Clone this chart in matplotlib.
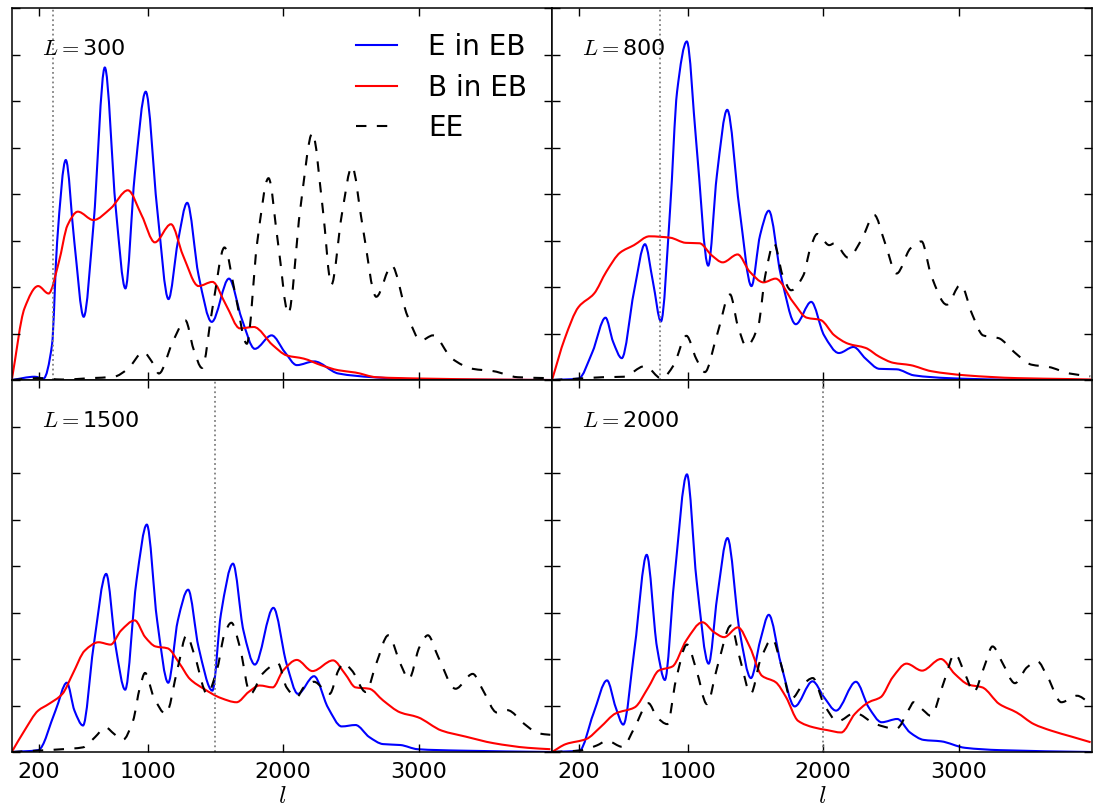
import numpy as np
import matplotlib
matplotlib.use('Agg')
import matplotlib.pyplot as plt
from matplotlib.path import Path
from matplotlib.patches import PathPatch
from matplotlib.lines import Line2D

plt.rcParams['mathtext.fontset'] = 'cm'
plt.rcParams['font.family'] = 'DejaVu Sans'

# multipole values L for each panel
L_values = [300, 800, 1500, 2000]

# ---- L = 300 ----
l_E_300 = [0, 168, 232, 295, 333, 397, 460, 529, 601, 685, 766, 837, 906, 987, 1071, 1155, 1224, 1293,
           1377, 1474, 1601, 1695, 1792, 1916, 2013, 2102, 2229, 2408, 2662, 3044, 3980]
E_300 = [0, 0.07, 0.03, 0.75, 2.97, 4.73, 2.97, 1.36, 3.33, 6.72, 3.69, 1.97, 4.41, 6.20, 3.69, 1.74, 2.97, 3.81,
         2.25, 1.25, 2.18, 1.32, 0.67, 0.96, 0.60, 0.32, 0.40, 0.14, 0.06, 0.01, 0]
l_B_300 = [0, 92, 193, 270, 346, 410, 486, 601, 728, 855, 957, 1054, 1173, 1262, 1377, 1479, 1580, 1682,
           1784, 1924, 2026, 2153, 2280, 2408, 2535, 2688, 3044, 3553, 3980]
B_300 = [0.03, 1.54, 2.02, 1.86, 2.54, 3.33, 3.62, 3.44, 3.69, 4.08, 3.54, 2.96, 3.35, 2.68, 2.02, 2.11, 1.61, 1.11,
         1.14, 0.75, 0.53, 0.46, 0.32, 0.21, 0.16, 0.06, 0.03, 0.01, 0]
l_EE_300 = [0, 193, 372, 575, 753, 855, 970, 1033, 1084, 1186, 1280, 1339, 1402, 1479, 1568, 1644, 1733, 1810,
            1893, 1962, 2039, 2128, 2217, 2293, 2357, 2433, 2509, 2586, 2688, 2802, 2917, 3018, 3107, 3247,
            3400, 3553, 3731, 3960]
EE_300 = [0, 0.04, 0.01, 0.04, 0.07, 0.24, 0.60, 0.39, 0.14, 0.82, 1.28, 0.67, 0.26, 1.54, 2.85, 1.90, 0.78, 2.97,
          4.34, 2.97, 1.43, 3.69, 5.31, 3.69, 2.05, 3.54, 4.59, 3.33, 1.79, 2.46, 1.39, 0.85, 0.96, 0.46,
          0.24, 0.19, 0.06, 0.04]

# ---- L = 800 ----
l_E_800 = [0, 196, 298, 395, 451, 515, 605, 686, 745, 804, 872, 923, 995, 1064, 1153, 1217, 1293, 1383, 1472,
           1536, 1600, 1689, 1799, 1913, 2008, 2117, 2225, 2314, 2416, 2543, 2671, 2926, 3309, 3980]
E_800 = [0, 0.03, 0.60, 1.34, 0.82, 0.47, 1.90, 2.92, 2.11, 1.26, 3.69, 6.20, 7.28, 5.13, 2.46, 4.41, 5.81, 3.69, 2.02,
         3.12, 3.64, 2.25, 1.20, 1.68, 0.96, 0.58, 0.71, 0.46, 0.24, 0.23, 0.10, 0.04, 0.01, 0]
l_B_800 = [0, 94, 196, 311, 401, 503, 605, 719, 872, 987, 1089, 1179, 1260, 1370, 1459, 1561, 1650, 1778, 1880,
           1982, 2084, 2186, 2314, 2416, 2518, 2645, 2798, 3053, 3436, 3819, 3980]
B_800 = [0, 0.89, 1.57, 1.86, 2.33, 2.74, 2.90, 3.09, 3.06, 2.95, 2.94, 2.68, 2.53, 2.70, 2.33, 2.10, 2.18, 1.68, 1.34,
         1.29, 0.96, 0.78, 0.69, 0.50, 0.37, 0.32, 0.19, 0.10, 0.04, 0.02, 0.01]
l_EE_800 = [0, 196, 375, 528, 686, 809, 898, 992, 1064, 1128, 1217, 1314, 1370, 1434, 1523, 1574, 1638, 1702,
            1765, 1855, 1906, 1957, 2046, 2084, 2186, 2288, 2378, 2455, 2543, 2645, 2727, 2798, 2913, 3015,
            3104, 3181, 3296, 3411, 3538, 3666, 3819, 3972]
EE_800 = [0, 0.03, 0.06, 0.07, 0.30, 0.03, 0.32, 0.95, 0.46, 0.17, 0.96, 1.84, 1.18, 0.73, 1.18, 2.25, 2.94, 2.25,
          1.93, 2.25, 2.83, 3.14, 2.90, 2.94, 2.63, 3.04, 3.55, 2.97, 2.29, 2.83, 2.98, 2.25, 1.62, 2.05,
          1.39, 0.96, 0.90, 0.60, 0.33, 0.28, 0.14, 0.08]

# ---- L = 1500 ----
l_E_1500 = [0, 193, 321, 405, 461, 524, 601, 695, 766, 835, 919, 995, 1071, 1153, 1224, 1300, 1377, 1479, 1542,
            1631, 1708, 1792, 1929, 2026, 2110, 2229, 2331, 2433, 2535, 2637, 2738, 2866, 2993, 3298, 3980]
E_1500 = [0, 0.04, 0.89, 1.49, 0.89, 0.57, 2.25, 3.83, 2.25, 1.34, 3.69, 4.89, 2.83, 1.49, 2.83, 3.49, 2.25, 1.32, 2.97,
          4.05, 2.61, 1.88, 3.10, 1.90, 1.25, 1.63, 0.96, 0.55, 0.58, 0.32, 0.17, 0.15, 0.06, 0.03, 0]
l_B_1500 = [0, 92, 193, 270, 372, 448, 537, 639, 728, 804, 906, 983, 1059, 1148, 1237, 1313, 1415, 1542, 1657,
            1746, 1827, 1924, 2000, 2102, 2217, 2369, 2458, 2535, 2637, 2738, 2866, 2993, 3171, 3349, 3553,
            3807, 3973]
B_1500 = [0.01, 0.46, 0.89, 1.03, 1.25, 1.68, 2.18, 2.36, 2.31, 2.61, 2.83, 2.47, 2.27, 2.23, 1.90, 1.57, 1.36, 1.16,
          1.07, 1.29, 1.43, 1.39, 1.75, 1.98, 1.74, 1.97, 1.68, 1.39, 1.36, 1.11, 0.85, 0.75, 0.46, 0.33, 0.19,
          0.09, 0.06]
l_EE_1500 = [0, 193, 372, 524, 613, 690, 753, 817, 893, 944, 982, 1046, 1135, 1224, 1288, 1351, 1440, 1517, 1568,
             1619, 1682, 1759, 1848, 1962, 2026, 2102, 2153, 2229, 2344, 2408, 2446, 2509, 2611, 2688, 2777,
             2866, 2929, 3006, 3069, 3146, 3273, 3400, 3477, 3578, 3655, 3782, 3884, 3973]
EE_1500 = [0, 0.03, 0.06, 0.10, 0.32, 0.53, 0.39, 0.26, 0.67, 1.39, 1.70, 1.18, 0.82, 1.82, 2.51, 2.04, 1.25, 1.82,
           2.54, 2.78, 2.25, 1.25, 1.68, 1.91, 1.39, 1.18, 1.39, 1.51, 1.25, 1.75, 1.91, 1.75, 1.29, 1.90, 2.51,
           1.90, 1.57, 2.25, 2.51, 2.04, 1.36, 1.68, 1.32, 0.85, 0.90, 0.60, 0.40, 0.37]

# ---- L = 2000 ----
l_E_2000 = [0, 203, 305, 406, 470, 526, 610, 699, 775, 833, 902, 996, 1067, 1156, 1219, 1295, 1384, 1468, 1537,
            1600, 1689, 1791, 1923, 2007, 2096, 2243, 2337, 2433, 2548, 2642, 2743, 2870, 3048, 3302, 3980]
E_2000 = [0, 0.03, 0.82, 1.54, 0.96, 0.59, 2.25, 4.24, 2.25, 1.55, 3.69, 5.97, 3.69, 1.90, 3.33, 4.60, 2.61, 1.59, 2.40,
          2.95, 1.90, 0.98, 1.52, 1.18, 0.89, 1.51, 0.96, 0.64, 0.71, 0.42, 0.26, 0.23, 0.09, 0.04, 0]
l_B_2000 = [0, 102, 254, 356, 470, 610, 711, 787, 889, 991, 1110, 1194, 1270, 1372, 1461, 1549, 1651, 1727, 1816,
            1930, 2032, 2134, 2235, 2337, 2426, 2515, 2616, 2731, 2870, 2972, 3073, 3175, 3302, 3429, 3556,
            3683, 3835, 3975]
B_2000 = [0, 0.17, 0.28, 0.53, 0.83, 0.96, 1.39, 1.75, 1.84, 2.40, 2.79, 2.58, 2.47, 2.68, 2.25, 1.64, 1.50, 1.18,
          0.67, 0.53, 0.47, 0.42, 0.82, 1.07, 1.18, 1.61, 1.90, 1.75, 2.00, 1.68, 1.45, 1.39, 1.03, 0.85, 0.60,
          0.46, 0.33, 0.21]
l_EE_2000 = [0, 203, 330, 406, 521, 610, 711, 775, 851, 914, 996, 1067, 1143, 1219, 1321, 1384, 1468, 1537, 1626,
             1689, 1765, 1854, 1925, 2007, 2108, 2235, 2388, 2540, 2642, 2667, 2743, 2794, 2896, 2972, 3048,
             3112, 3188, 3251, 3327, 3416, 3505, 3581, 3658, 3759, 3874, 3962]
EE_2000 = [0, 0.03, 0.14, 0.24, 0.11, 0.53, 1.05, 0.75, 0.60, 1.54, 2.31, 1.75, 1.03, 1.82, 2.72, 2.04, 1.26, 1.97,
           2.43, 1.90, 1.14, 1.46, 1.59, 1.03, 0.66, 0.84, 0.60, 0.50, 0.96, 1.07, 0.89, 0.78, 1.54, 2.11, 1.68,
           1.29, 1.82, 2.27, 1.90, 1.48, 1.82, 1.95, 1.61, 1.07, 1.21, 1.07]

panels = [
    (l_E_300, E_300, l_B_300, B_300, l_EE_300, EE_300),
    (l_E_800, E_800, l_B_800, B_800, l_EE_800, EE_800),
    (l_E_1500, E_1500, l_B_1500, B_1500, l_EE_1500, EE_1500),
    (l_E_2000, E_2000, l_B_2000, B_2000, l_EE_2000, EE_2000),
]

xticks = [200, 1000, 2000, 3000]
LW = 1.5
EE_DASH = (0, (5, 5))


def smooth_path(x, y):
    # cubic bezier through the read points (monotone tangents, no overshoot)
    x = np.asarray(x, float)
    y = np.asarray(y, float)
    h = np.diff(x)
    d = np.diff(y) / h
    m = np.zeros_like(y)
    m[0], m[-1] = d[0], d[-1]
    for k in range(1, len(x) - 1):
        if d[k - 1] * d[k] <= 0:
            m[k] = 0.0
        else:
            w1 = 2 * h[k] + h[k - 1]
            w2 = h[k] + 2 * h[k - 1]
            m[k] = (w1 + w2) / (w1 / d[k - 1] + w2 / d[k])
    verts = [(x[0], y[0])]
    codes = [Path.MOVETO]
    for k in range(len(x) - 1):
        verts += [(x[k] + h[k] / 3, y[k] + m[k] * h[k] / 3),
                  (x[k + 1] - h[k] / 3, y[k + 1] - m[k + 1] * h[k] / 3),
                  (x[k + 1], y[k + 1])]
        codes += [Path.CURVE4] * 3
    return Path(verts, codes)


def draw_curve(ax, x, y, **kw):
    patch = PathPatch(smooth_path(x, y), facecolor='none', **kw)
    ax.add_patch(patch)


fig, axes = plt.subplots(2, 2, figsize=(10.99, 8.06), dpi=100, sharex=True, sharey=True)
fig.subplots_adjust(left=12/1099, right=1092/1099, top=1-8/806, bottom=1-752/806,
                    wspace=0, hspace=0)

for i, ax in enumerate(axes.flat):
    lE, E, lB, B, lEE, EE = panels[i]
    L = L_values[i]
    draw_curve(ax, lE, E, edgecolor='blue', lw=LW)
    draw_curve(ax, lB, B, edgecolor='red', lw=LW)
    draw_curve(ax, lEE, EE, edgecolor='black', lw=LW, linestyle=EE_DASH)
    ax.axvline(L, color='0.5', lw=1.3, linestyle=':')
    ax.text(0.055, 0.89, r'$L=$' + str(L), transform=ax.transAxes, fontsize=16, va='center', ha='left')

    ax.set_xlim(0, 3985)
    ax.set_ylim(0, 8)
    ax.set_xticks(xticks)
    ax.set_xticklabels([str(t) for t in xticks])
    ax.set_yticks(np.arange(0, 9, 1))
    ax.set_yticklabels([])
    ax.tick_params(direction='in', length=6, width=1, top=True, right=True, labelsize=16, pad=7.5)
    for sp in ax.spines.values():
        sp.set_linewidth(1.1)
    if i >= 2:
        ax.set_xlabel(r'$l$', fontsize=18, labelpad=1)
    else:
        ax.tick_params(labelbottom=False)

handles = [Line2D([], [], color='blue', lw=LW),
           Line2D([], [], color='red', lw=LW),
           Line2D([], [], color='black', lw=LW, linestyle=EE_DASH)]
axes[0, 0].legend(handles, ['E in EB', 'B in EB', 'EE'], loc='upper right', frameon=False,
                  fontsize=20, handlelength=1.5, handletextpad=1.1, labelspacing=0.45)

fig.savefig('out.png', dpi=100)
